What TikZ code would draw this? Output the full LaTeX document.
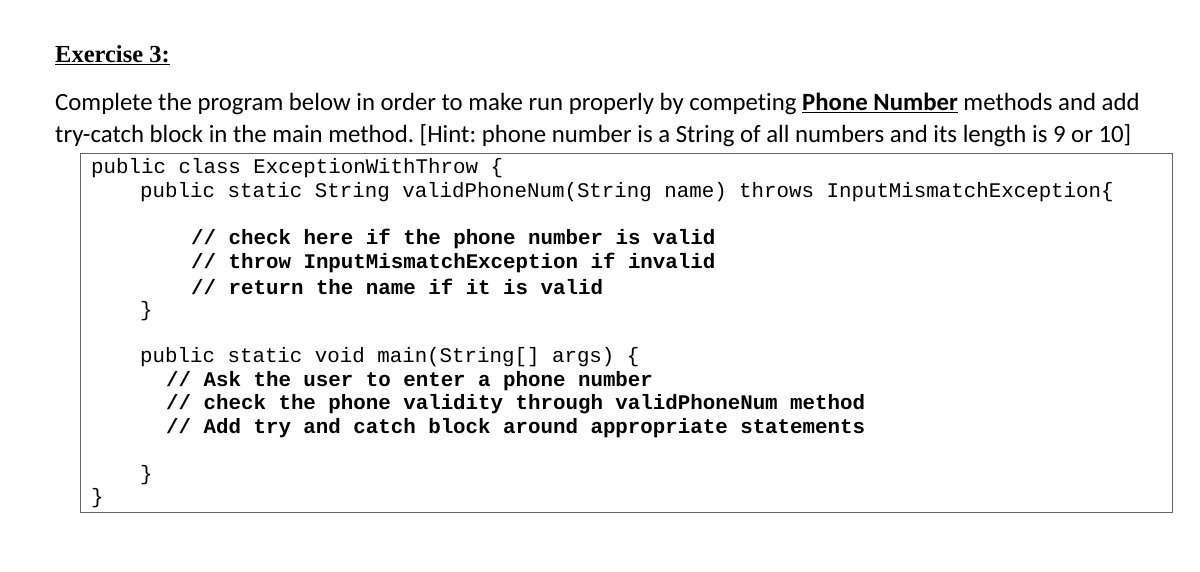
\documentclass[tikz,border=0pt]{standalone}
\usepackage{fontspec}
\setmainfont{Liberation Serif}
\newfontfamily\bodyfont[Ligatures={NoCommon,NoRare,NoContextual}]{Carlito}
\newfontfamily\codefont{Liberation Mono}
\frenchspacing
\begin{document}
\begin{tikzpicture}[x=1pt,y=-1pt,
  code/.style={anchor=west,inner sep=0pt,font=\codefont\fontsize{20.8}{24}\selectfont},
  bcode/.style={code,font=\codefont\bfseries\fontsize{20.8}{24}\selectfont},
  para/.style={anchor=west,inner sep=0pt,font=\bodyfont\fontsize{24.8}{28}\selectfont}]
\useasboundingbox (0,0) rectangle (1200,572);
\node[anchor=west,inner sep=0pt,font=\bfseries\fontsize{24.5}{28}\selectfont] (t) at (55,55) {\underline{Exercise 3:}};
\node[para] (p1) at (55,104) {Complete the program below in order to make run properly by competing \textbf{\underline{Phone Number}} methods and add};
\node[para] (p2) at (55,136) {try-catch block in the main method. [Hint: phone number is a String of all numbers and its length is 9 or 10]};
\draw[gray!80!black,line width=1pt] (80,154) rectangle (1172,512);
\node[code] (c1) at (91,168) {public class ExceptionWithThrow \{};
\node[code] (c2) at (140,192) {public static String validPhoneNum(String name) throws InputMismatchException\{};
\node[bcode] (c3) at (191,239) {// check here if the phone number is valid};
\node[bcode] (c4) at (191,263) {// throw InputMismatchException if invalid};
\node[bcode] (c5) at (191,287) {// return the name if it is valid};
\node[code] (c6) at (140,311) {\}};
\node[code] (c7) at (140,357) {public static void main(String[] args) \{};
\node[bcode] (c8) at (166,381) {// Ask the user to enter a phone number};
\node[bcode] (c9) at (166,404) {// check the phone validity through validPhoneNum method};
\node[bcode] (c10) at (166,428) {// Add try and catch block around appropriate statements};
\node[code] (c11) at (140,475) {\}};
\node[code] (c12) at (91,498) {\}};
\end{tikzpicture}
\end{document}
